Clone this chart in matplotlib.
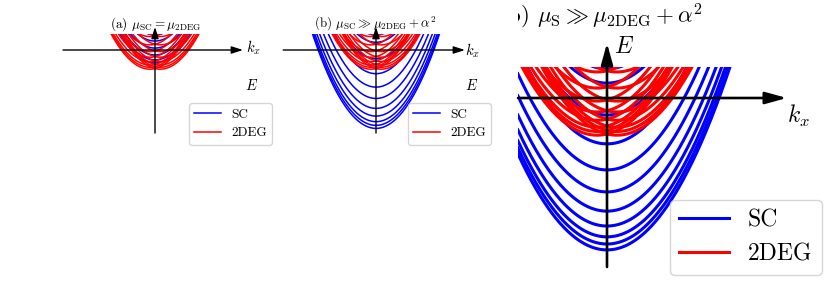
import numpy as np
import matplotlib
matplotlib.use("Agg")
import matplotlib.pyplot as plt
from matplotlib.patches import Rectangle

plt.rcParams['mathtext.fontset'] = 'cm'
plt.rcParams['font.family'] = 'serif'
plt.rcParams['font.serif'] = ['cmr10', 'DejaVu Serif']
plt.rcParams['axes.formatter.use_mathtext'] = True

# band bottoms E(k=0) (E=1 is where the curves are cut)
sc_min_a = [0.94, 0.56, 0.12, -0.31, -0.62, -0.81]
sc_min_b = [0.94, 0.48, -0.55, -1.48, -2.32, -3.03, -3.65, -4.13, -4.48, -4.71, -4.90]
deg_min = [0.84, 0.32, -0.10, -0.45, -0.72, -0.94, -1.08, -1.20]
curv = 0.375      # E = curv * k^2 + E0
k_rashba = 0.32   # 2DEG bands shifted by +-k_R
E_top = 1.0

legend_labels = ["SC", "2DEG"]

W, H = 831, 288
fig = plt.figure(figsize=(W / 100, H / 100), dpi=100)


def fx(px):
    return px / W


def fy(py):
    return 1 - py / H


def make_axes(L, R, cx, cy, s):
    ax = fig.add_axes([fx(L), 0, (R - L) / W, 1])
    ax.set_xlim((L - cx) / s, (R - cx) / s)
    ax.set_ylim((cy - H) / s, cy / s)
    ax.axis("off")
    return ax


def draw_bands(ax, sc_min, lw):
    x0, x1 = ax.get_xlim()
    y0, y1 = ax.get_ylim()
    k = np.linspace(-9, 9, 2000)
    lines = []
    for i, e0 in enumerate(sc_min):
        ln, = ax.plot(k, curv * k**2 + e0, color="blue", lw=lw,
                      label=legend_labels[0] if i == 0 else None)
        lines.append(ln)
    for i, e0 in enumerate(deg_min):
        for sg in (-1, 1):
            ln, = ax.plot(k, curv * (k + sg * k_rashba)**2 + e0, color="red", lw=lw,
                          label=legend_labels[1] if (i == 0 and sg == -1) else None)
            lines.append(ln)
    for ln in lines:
        clip = Rectangle((x0, y0), x1 - x0, E_top - y0, transform=ax.transData)
        ln.set_clip_path(clip)


def draw_arrows(ax, hx, vy, lw, hl, hw):
    style = "-|>,head_length=%.2f,head_width=%.2f" % (hl, hw)
    for tail, tip in [((hx[0], 0), (hx[1], 0)), ((0, vy[0]), (0, vy[1]))]:
        ax.annotate("", xy=tip, xytext=tail, annotation_clip=False,
                    arrowprops=dict(arrowstyle=style, lw=lw, color="k",
                                    shrinkA=0, shrinkB=0, mutation_scale=10),
                    zorder=5)


# (a)
ax1 = make_axes(0, 270, 155, 50, 16)
draw_bands(ax1, sc_min_a, 1.1)
draw_arrows(ax1, (-5.75, 5.5), (-5.19, 1.44), 1.0, 0.68, 0.22)
ax1.legend(loc="upper left", bbox_to_anchor=(fx(189), fy(103)),
           bbox_transform=fig.transFigure, borderaxespad=0, fontsize=9.5,
           handlelength=2.0)

# (b)
ax2 = make_axes(270, 512, 376, 50, 16)
draw_bands(ax2, sc_min_b, 1.1)
draw_arrows(ax2, (-5.8, 5.56), (-5.19, 1.44), 1.0, 0.68, 0.22)
ax2.legend(loc="upper left", bbox_to_anchor=(fx(408), fy(103)),
           bbox_transform=fig.transFigure, borderaxespad=0, fontsize=9.5,
           handlelength=2.0)

# enlarged (b)
ax3 = make_axes(518, 831, 607, 98, 31)
draw_bands(ax3, sc_min_b, 2.2)
draw_arrows(ax3, (ax3.get_xlim()[0], 5.8), (-5.45, 1.77), 1.9, 1.3, 0.36)
ax3.legend(loc="upper left", bbox_to_anchor=(fx(670), fy(200)),
           bbox_transform=fig.transFigure, borderaxespad=0, fontsize=17,
           handlelength=2.1)

# texts
fig.text(fx(156), fy(28), r"(a) $\mu_{\mathrm{SC}}=\mu_{\mathrm{2DEG}}$",
         ha="center", va="baseline", fontsize=9.5)
fig.text(fx(375), fy(28), r"(b) $\mu_{\mathrm{SC}}\gg\mu_{\mathrm{2DEG}}+\alpha^2$",
         ha="center", va="baseline", fontsize=9.3)
t = fig.text(fx(703), fy(23), r"(b) $\mu_{\mathrm{S}}\gg\mu_{\mathrm{2DEG}}+\alpha^2$",
             ha="right", va="baseline", fontsize=16.5)
t.set_clip_box(ax3.bbox)
t.set_clip_on(True)

for x, y in [(253, 48), (472, 51)]:
    fig.text(fx(x), fy(y), r"$k_x$", ha="center", va="center", fontsize=10.5)
for x, y in [(252, 86), (472, 86)]:
    fig.text(fx(x), fy(y), r"$E$", ha="center", va="center", fontsize=10.5)
fig.text(fx(798), fy(116), r"$k_x$", ha="center", va="center", fontsize=17)
fig.text(fx(624), fy(47), r"$E$", ha="center", va="center", fontsize=17)

fig.savefig("out.png", dpi=100)
